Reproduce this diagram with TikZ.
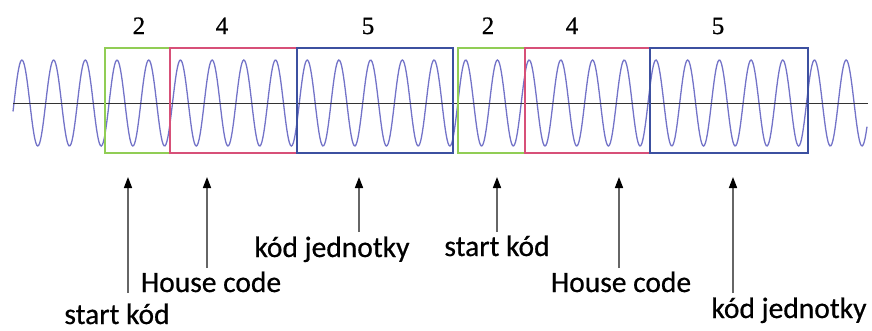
\documentclass[tikz,border=0pt]{standalone}
\usepackage{fontspec}
\setmainfont{Liberation Serif}
\newfontfamily\labfont[FakeBold=0.6]{Carlito}
\newfontfamily\numfont[FakeBold=0.8]{Liberation Serif}
\usetikzlibrary{arrows.meta}
\definecolor{startgreen}{RGB}{145,205,85}
\definecolor{housered}{RGB}{215,80,120}
\definecolor{unitblue}{RGB}{60,80,160}
\definecolor{wavecol}{RGB}{115,115,200}
\tikzset{
  frame/.style={draw,line width=2pt},
  num/.style={font=\numfont\fontsize{25}{27}\selectfont,anchor=base,inner sep=0pt},
  lab/.style={font=\labfont\fontsize{29.5}{32}\selectfont,anchor=base,inner sep=0pt},
  arr/.style={-{Triangle[length=11pt,width=8pt,color=black]},draw=black!60,line width=1.6pt}
}

\begin{document}
\begin{tikzpicture}[x=1pt,y=-1pt]
\useasboundingbox (0,0) rectangle (872,330);

% carrier signal
\draw[wavecol,line width=1.3pt] plot[domain=13:867,samples=900] (\x,{103-43*sin((\x-14)*11.356)});
\draw[black!80,line width=0.9pt] (13,103) -- (868,103);

% code frames
\draw[frame,startgreen] (105,48) rectangle (170,153);
\draw[frame,housered] (170,48) rectangle (297,153);
\draw[frame,unitblue] (297,48) rectangle (453,153);
\draw[frame,startgreen] (458,48) rectangle (525,153);
\draw[frame,housered] (525,48) rectangle (650,153);
\draw[frame,unitblue] (650,48) rectangle (808,153);

% bit counts
\node[num] (n1) at (139,34) {2};
\node[num] (n2) at (222,34) {4};
\node[num] (n3) at (368,34) {5};
\node[num] (n4) at (488,34) {2};
\node[num] (n5) at (572,34) {4};
\node[num] (n6) at (718,34) {5};

% labels
\node[lab] (start1) at (117,324) {start kód};
\node[lab] (house1) at (211,292) {House code};
\node[lab] (unit1) at (332,257) {kód jednotky};
\node[lab] (start2) at (497,256) {start kód};
\node[lab] (house2) at (621,292) {House code};
\node[lab] (unit2) at (789,318) {kód jednotky};

% arrow ends
\coordinate (t1) at (128,177); \coordinate (b1) at (128,293);
\coordinate (t2) at (207,177); \coordinate (b2) at (207,268);
\coordinate (t3) at (359,177); \coordinate (b3) at (359,232);
\coordinate (t4) at (497,177); \coordinate (b4) at (497,232);
\coordinate (t5) at (619,177); \coordinate (b5) at (619,268);
\coordinate (t6) at (733,177); \coordinate (b6) at (733,293);

\draw[arr] (b1) -- (t1);
\draw[arr] (b2) -- (t2);
\draw[arr] (b3) -- (t3);
\draw[arr] (b4) -- (t4);
\draw[arr] (b5) -- (t5);
\draw[arr] (b6) -- (t6);

\end{tikzpicture}
\end{document}
